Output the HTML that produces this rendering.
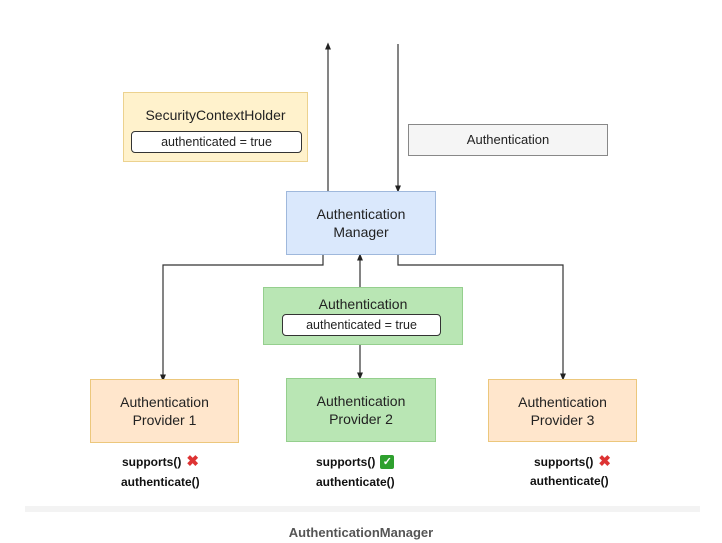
<!DOCTYPE html>
<html><head><meta charset="utf-8"><style>
html,body{margin:0;padding:0;background:#fff;}
body{width:722px;height:543px;position:relative;overflow:hidden;font-family:"Liberation Sans",sans-serif;}
.b{position:absolute;box-sizing:border-box;display:flex;align-items:center;justify-content:center;text-align:center;font-size:14px;color:#222;line-height:18px;}
.i{position:absolute;box-sizing:border-box;background:#fff;border:1.5px solid #333;border-radius:4px;font-size:12.5px;color:#222;display:flex;align-items:center;justify-content:center;}
.t{position:absolute;font-weight:bold;font-size:12px;color:#111;height:16px;line-height:16px;display:flex;align-items:center;white-space:nowrap;}
.x{color:#d33;font-size:15px;margin-left:5px;}
.c{display:inline-block;width:14px;height:14px;background:#2ea02e;color:#fff;font-size:11px;line-height:14px;text-align:center;border-radius:2px;margin-left:5px;}
</style></head><body>
<svg width="722" height="543" style="position:absolute;left:0;top:0">
<defs><marker id="a" markerWidth="6" markerHeight="6" refX="3" refY="3" orient="auto"><path d="M0,0.5 L6,3 L0,5.5z" fill="#222"/></marker></defs>
<g stroke="#333" stroke-width="1.2" fill="none">
<line x1="328" y1="191" x2="328" y2="46" marker-end="url(#a)"/>
<line x1="398" y1="44" x2="398" y2="189" marker-end="url(#a)"/>
<polyline points="323,255 323,265 163,265 163,378" marker-end="url(#a)"/>
<polyline points="398,255 398,265 563,265 563,377" marker-end="url(#a)"/>
<line x1="360" y1="287" x2="360" y2="257" marker-end="url(#a)"/>
<line x1="360" y1="345" x2="360" y2="376" marker-end="url(#a)"/>
</g>
<rect x="25" y="506" width="675" height="6" fill="#f3f3f3"/>
</svg>
<div class="b" style="left:123px;top:92px;width:185px;height:70px;background:#fff2cc;border:1.5px solid #ecd28f;align-items:flex-start;padding-top:13px;">SecurityContextHolder</div>
<div class="i" style="left:131px;top:131px;width:171px;height:22px;">authenticated = true</div>
<div class="b" style="left:408px;top:124px;width:200px;height:32px;background:#f5f5f5;border:1.5px solid #888;font-size:13px;">Authentication</div>
<div class="b" style="left:286px;top:191px;width:150px;height:64px;background:#dae8fc;border:1.5px solid #9fb8dc;">Authentication<br>Manager</div>
<div class="b" style="left:263px;top:287px;width:200px;height:58px;background:#b9e6b4;border:1.5px solid #95cf8e;align-items:flex-start;padding-top:7px;">Authentication</div>
<div class="i" style="left:282px;top:314px;width:159px;height:22px;">authenticated = true</div>
<div class="b" style="left:90px;top:379px;width:149px;height:64px;background:#ffe6cc;border:1.5px solid #ecc77c;">Authentication<br>Provider 1</div>
<div class="b" style="left:286px;top:378px;width:150px;height:64px;background:#b9e6b4;border:1.5px solid #95cf8e;">Authentication<br>Provider 2</div>
<div class="b" style="left:488px;top:379px;width:149px;height:63px;background:#ffe6cc;border:1.5px solid #ecc77c;">Authentication<br>Provider 3</div>
<div class="t" style="left:122px;top:454px;">supports()<span class="x">✖</span></div>
<div class="t" style="left:121px;top:474px;">authenticate()</div>
<div class="t" style="left:316px;top:454px;">supports()<span class="c">✓</span></div>
<div class="t" style="left:316px;top:474px;">authenticate()</div>
<div class="t" style="left:534px;top:454px;">supports()<span class="x">✖</span></div>
<div class="t" style="left:530px;top:473px;">authenticate()</div>
<div style="position:absolute;left:0;width:722px;top:525px;text-align:center;font-weight:bold;font-size:13px;color:#555;">AuthenticationManager</div>
</body></html>
